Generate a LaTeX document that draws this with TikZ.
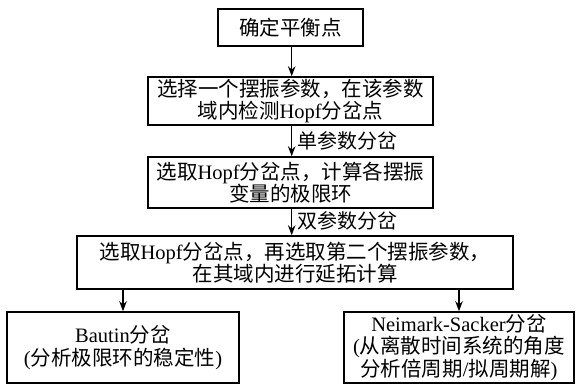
\documentclass[tikz,border=0pt]{standalone}
\usepackage{fontspec}
\setmainfont{Liberation Serif}
\newfontfamily\cjk{Noto Sans CJK SC}
\usetikzlibrary{arrows.meta}
\begin{document}
\begin{tikzpicture}[x=1pt,y=-1pt,
  box/.style={draw,line width=1.5pt,rectangle,align=center,inner sep=0pt,
    font=\fontsize{20.5}{22.5}\selectfont},
  arr/.style={line width=1.4pt,-{Stealth[length=10pt,width=7.5pt]}},
  lab/.style={anchor=west,inner sep=0pt,font=\fontsize{20}{22}\selectfont\cjk}]
\useasboundingbox (0,0) rectangle (578,386);
\node[box,minimum width=145pt,minimum height=37pt] (b1) at (290.5,27.5) {\cjk 确定平衡点};
\node[box,minimum width=285pt,minimum height=48pt] (b2) at (290.5,101) {{\cjk 选择一个摆振参数，在该参数}\\{\cjk 域内检测}Hopf{\cjk 分岔点}};
\node[box,minimum width=285pt,minimum height=51pt] (b3) at (290.5,182.5) {{\cjk 选取}Hopf{\cjk 分岔点，计算各摆振}\\{\cjk 变量的极限环}};
\node[box,minimum width=436pt,minimum height=53pt] (b4) at (295,262.5) {{\cjk 选取}Hopf{\cjk 分岔点，再选取第二个摆振参数，}\\{\cjk 在其域内进行延拓计算}};
\node[box,minimum width=232pt,minimum height=71pt] (b5) at (123,347.5) {Bautin{\cjk 分岔}\\({\cjk 分析极限环的稳定性})};
\node[box,minimum width=230pt,minimum height=71pt] (b6) at (459,347.5) {Neimark-Sacker{\cjk 分岔}\\({\cjk 从离散时间系统的角度}\\{\cjk 分析倍周期}/{\cjk 拟周期解})};
\draw[arr] (b1.south -| 291.7,0) -- (b2.north -| 291.7,0);
\draw[arr] (b2.south -| 291.7,0) -- (b3.north -| 291.7,0);
\draw[arr] (b3.south -| 291.7,0) -- (b4.north -| 291.7,0);
\draw[arr] (b4.south -| b5.north) -- (b5.north);
\draw[arr] (b4.south -| b6.north) -- (b6.north);
\node[lab] (l1) at (297,141) {单参数分岔};
\node[lab] (l2) at (297,221) {双参数分岔};
\end{tikzpicture}
\end{document}
